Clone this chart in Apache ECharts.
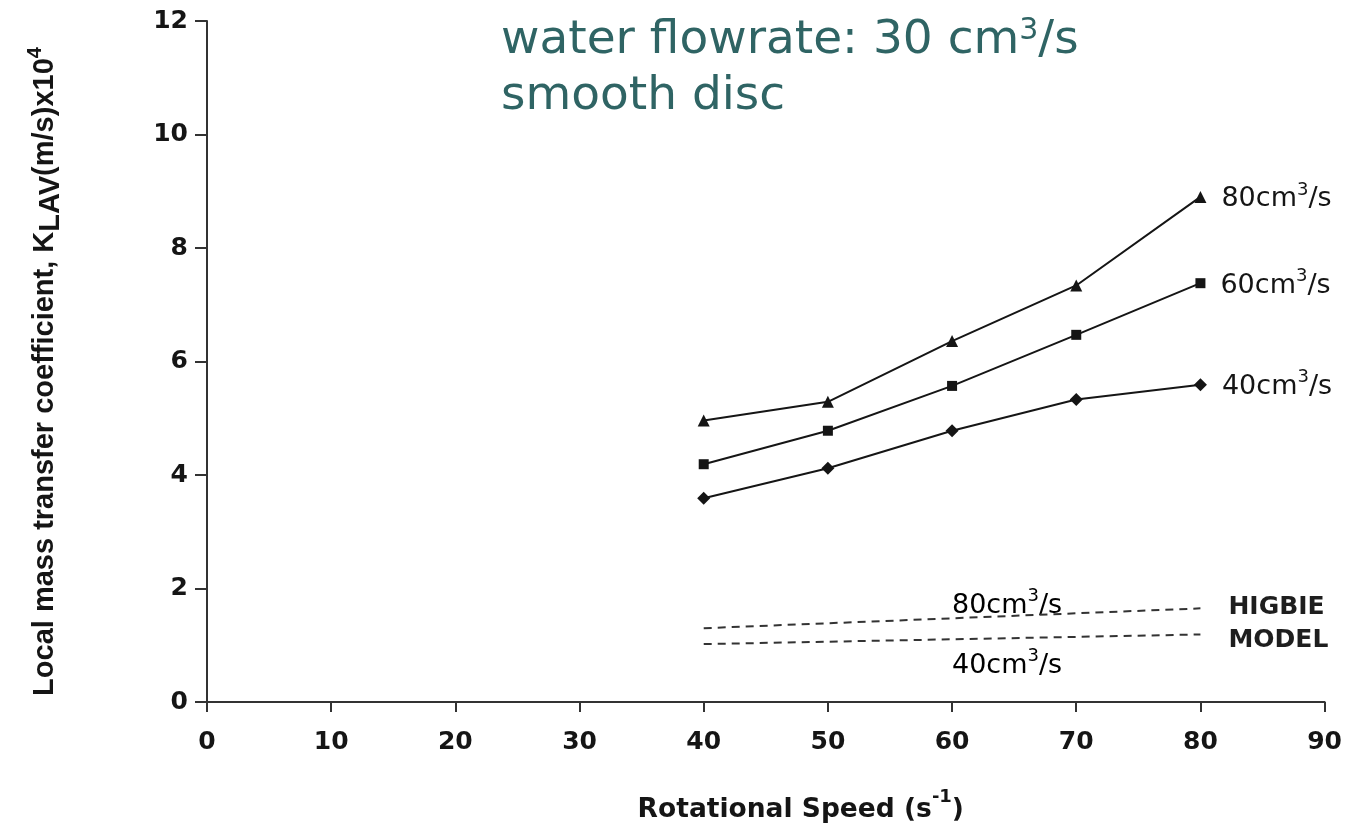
<!DOCTYPE html>
<html>
<head>
<meta charset="utf-8">
<title>Local mass transfer coefficient vs rotational speed</title>
<script src="https://cdn.jsdelivr.net/npm/echarts@6/dist/echarts.min.js"></script>
<style>
  html, body { margin: 0; padding: 0; background: #ffffff; }
  #chart { width: 1345px; height: 829px; }
</style>
</head>
<body>
<div id="chart"></div>
<script>
// Rotational speed (1/s) at which the disc was measured
const speeds = [40, 50, 60, 70, 80];
// Measured K_LAV x 10^4 (m/s) for three liquid flowrates
const flow80 = [4.96, 5.29, 6.36, 7.34, 8.90];
const flow60 = [4.19, 4.78, 5.57, 6.47, 7.38];
const flow40 = [3.59, 4.12, 4.78, 5.33, 5.59];
// Higbie penetration model predictions (end points of each line)
const modelSpeeds = [40, 80];
const higbie80 = [1.30, 1.65];
const higbie40 = [1.02, 1.19];
// Axis ticks
const xTicks = [0, 10, 20, 30, 40, 50, 60, 70, 80, 90];
const yTicks = [0, 2, 4, 6, 8, 10, 12];

const pairs = (xs, ys) => xs.map((x, i) => [x, ys[i]]);

const INK = '#151515';
const labelFont = { fontFamily: 'DejaVu Sans', fontSize: 27, color: INK };
const cmRich = {
  n: { ...labelFont, verticalAlign: 'bottom', lineHeight: 32 },
  sup: { ...labelFont, fontSize: 18, verticalAlign: 'top', lineHeight: 32 }
};
const boldAxis = { fontFamily: 'DejaVu Sans', fontWeight: 'bold', color: INK };

function measured(name, data, symbol, size) {
  return {
    name: name,
    type: 'line',
    data: pairs(speeds, data),
    symbol: symbol,
    symbolSize: size,
    lineStyle: { color: INK, width: 2 },
    itemStyle: { color: INK },
    label: {
      show: true,
      position: 'right',
      distance: 15,
      formatter: (p) => p.dataIndex === speeds.length - 1 ? '{n|' + name + 'cm}{sup|3}{n|/s}' : '',
      rich: cmRich
    },
    z: 3
  };
}

function model(name, data, tag, dy) {
  return {
    name: name,
    type: 'line',
    data: pairs(modelSpeeds, data),
    symbol: 'none',
    lineStyle: { color: '#333', width: 2, type: [8, 6] },
    label: { show: false },
    endLabel: {
      show: true,
      distance: 28,
      offset: [0, dy],
      formatter: tag,
      fontFamily: 'DejaVu Sans',
      fontSize: 25,
      fontWeight: 'bold',
      color: '#1e1e1e'
    }
  };
}

const chart = echarts.init(document.getElementById('chart'));
chart.setOption({
  backgroundColor: '#ffffff',
  animation: false,
  grid: { left: 207, right: 19, top: 21, bottom: 123, containLabel: false },
  title: {
    left: 496,
    top: 3,
    text: '{t|water flowrate: 30 cm}{s|3}{t|/s}\n{t|smooth disc}',
    textStyle: {
      fontWeight: 'normal',
      rich: {
        t: { fontFamily: 'DejaVu Sans', fontWeight: 'normal', fontSize: 47, color: '#2f6464', lineHeight: 56, verticalAlign: 'bottom' },
        s: { fontFamily: 'DejaVu Sans', fontWeight: 'normal', fontSize: 30, color: '#2f6464', lineHeight: 56, verticalAlign: 'top', padding: [8, 0, 0, 0] }
      }
    }
  },
  xAxis: {
    type: 'value',
    min: xTicks[0],
    max: xTicks[xTicks.length - 1],
    interval: 10,
    splitLine: { show: false },
    axisLine: { show: true, lineStyle: { color: '#333', width: 2 } },
    axisTick: { show: true, length: 10, lineStyle: { color: '#333', width: 2 } },
    axisLabel: { margin: 28, fontSize: 25, ...boldAxis },
    name: '{a|Rotational Speed (s}{s|-1}{a|)}',
    nameLocation: 'middle',
    nameGap: 86,
    nameTextStyle: {
      padding: [0, 0, 0, 70],
      rich: {
        a: { ...boldAxis, fontSize: 26.5, lineHeight: 36, verticalAlign: 'bottom' },
        s: { ...boldAxis, fontSize: 18, lineHeight: 36, verticalAlign: 'top' }
      }
    }
  },
  yAxis: {
    type: 'value',
    min: yTicks[0],
    max: yTicks[yTicks.length - 1],
    interval: 2,
    splitLine: { show: false },
    axisLine: { show: true, lineStyle: { color: '#333', width: 2 } },
    axisTick: { show: true, length: 12, lineStyle: { color: '#333', width: 2 } },
    axisLabel: { margin: 19, fontSize: 25, ...boldAxis },
    name: '{a|Local mass transfer coefficient, K}{b|LAV}{a|(m/s)x10}{s|4}',
    nameLocation: 'middle',
    nameRotate: 90,
    nameGap: 142,
    nameTextStyle: {
      padding: [0, 20, 0, 0],
      rich: {
        a: { fontFamily: 'Liberation Sans', fontWeight: 'bold', fontSize: 29, color: INK, lineHeight: 40, verticalAlign: 'middle' },
        b: { fontFamily: 'Liberation Sans', fontWeight: 'bold', fontSize: 29, color: INK, lineHeight: 40, verticalAlign: 'bottom', padding: [12, 0, 0, 0] },
        s: { fontFamily: 'Liberation Sans', fontWeight: 'bold', fontSize: 20, color: INK, lineHeight: 40, verticalAlign: 'top' }
      }
    }
  },
  graphic: [
    {
      type: 'text', left: 952, top: 587,
      style: { text: '{n|80cm}{sup|3}{n|/s}', rich: cmRich }
    },
    {
      type: 'text', left: 952, top: 647,
      style: { text: '{n|40cm}{sup|3}{n|/s}', rich: cmRich }
    }
  ],
  series: [
    measured('80', flow80, 'triangle', 12),
    measured('60', flow60, 'rect', 10),
    measured('40', flow40, 'diamond', 13),
    model('Higbie 80', higbie80, 'HIGBIE', -1),
    model('Higbie 40', higbie40, 'MODEL', 6)
  ]
});
</script>
</body>
</html>
